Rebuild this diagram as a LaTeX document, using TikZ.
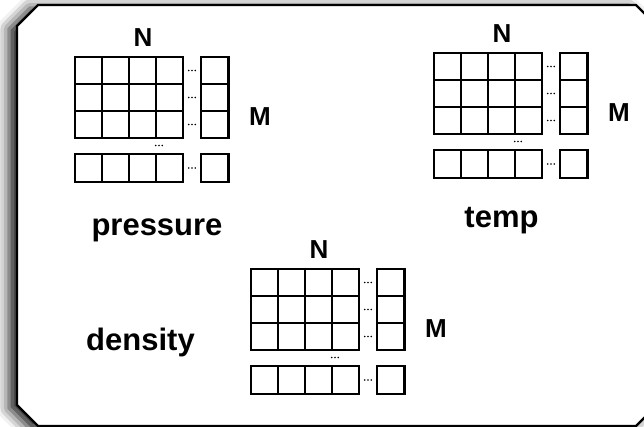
\documentclass[tikz,border=0pt]{standalone}
\usepackage{fontspec}
\setmainfont{Liberation Sans}
\usetikzlibrary{shadows.blur}
\begin{document}
\begin{tikzpicture}[x=1pt,y=-1pt,
  panel/.style={draw=black,line width=2.2pt,fill=white,line join=miter,
    blur shadow={shadow xshift=-8pt,shadow yshift=-3pt,shadow blur radius=12pt,shadow opacity=90}},
  cellline/.style={draw=black,line width=2.8pt,line join=miter},
  dimlabel/.style={anchor=base,font=\fontsize{26}{26}\selectfont\bfseries},
  varlabel/.style={anchor=base,font=\fontsize{31}{31}\selectfont\bfseries},
  dotmark/.style={fill=black},
  pics/field/.style={code={
    % main 4x3 block of cells
    \foreach \i in {0,...,3}
      \foreach \j in {0,1,2}
        \draw[cellline] (27*\i,27*\j) rectangle ++(27,27);
    % last column
    \foreach \j in {0,1,2}
      \draw[cellline] (126,27*\j) rectangle ++(27.5,27);
    % last row
    \foreach \i in {0,...,3}
      \draw[cellline] (27*\i,97) rectangle ++(27,28);
    \draw[cellline] (126,97) rectangle ++(27.5,28);
    % ellipses between the blocks
    \foreach \y in {13.5,40.5,67.5,111}
      \foreach \d in {-3.3,0,3.3}
        \fill[dotmark] (117+\d,\y) circle (0.85);
    \foreach \d in {-3.3,0,3.3}
      \fill[dotmark] (84+\d,88.5) circle (0.85);
    % dimension labels
    \node[dimlabel] (-n) at (68,-10.5) {N};
    \node[dimlabel] (-m) at (185,68.5) {M};
  }}]
\useasboundingbox (0,0) rectangle (644,427);

% chamfered panel
\path[panel] (38,5) -- (636,5) -- (657,26) -- (657,405) -- (636,426)
  -- (38,426) -- (17,405) -- (17,26) -- cycle;

% the three fields
\pic (p) at (75,57) {field};
\pic (t) at (434,53) {field};
\pic (d) at (251,269) {field};

\node[varlabel] (pname) at (157,236) {pressure};
\node[varlabel] (tname) at (501.5,228) {temp};
\node[varlabel] (dname) at (140.5,350) {density};
\end{tikzpicture}
\end{document}
